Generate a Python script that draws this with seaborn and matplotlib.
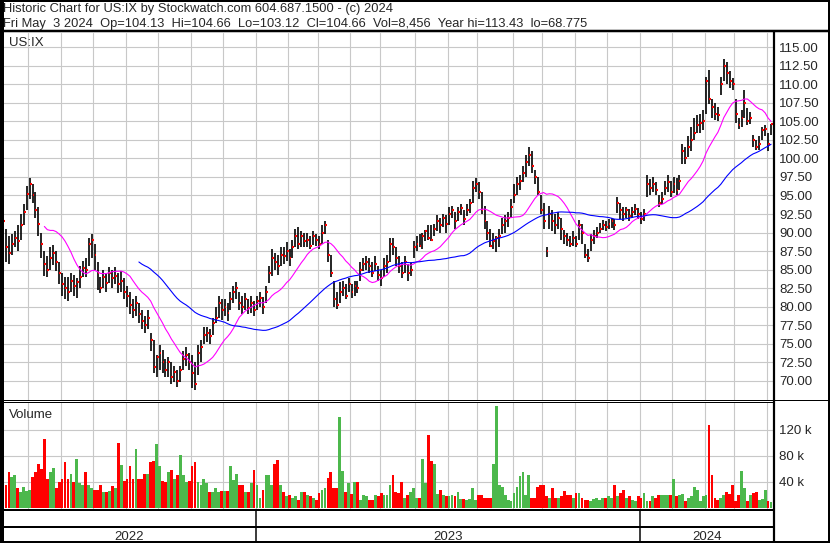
import numpy as np
import pandas as pd
import matplotlib
matplotlib.use('Agg')
import matplotlib.pyplot as plt
from matplotlib.patches import Rectangle
import seaborn as sns

sns.set_style('white')
plt.rcParams['font.family'] = ['Liberation Sans', 'DejaVu Sans']

# one bar per two trading days, May 2022 -> May 3 2024
dates = pd.bdate_range(end='2024-05-03', periods=522)[1::2]

close = [
    91.5, 88.0, 87.2, 88.5, 89.3, 88.8, 91.0, 92.8, 95.2, 96.5,
    95.0, 93.0, 91.2, 88.5, 85.8, 85.0, 86.5, 87.2, 86.0, 84.5,
    83.0, 82.5, 82.0, 83.5, 82.8, 83.3, 84.0, 85.2, 85.0, 88.5,
    89.0, 87.0, 84.5, 82.5, 84.0, 83.2, 84.5, 83.8, 84.2, 83.0,
    83.5, 82.0, 81.5, 80.2, 79.5, 80.5, 79.0, 78.0, 77.5, 78.5,
    75.5, 71.8, 73.2, 73.8, 72.5, 71.5, 72.5, 70.5, 71.2, 70.0,
    71.5, 73.0, 73.5, 72.5, 71.0, 69.5, 73.8, 74.5, 76.2, 76.5,
    76.0, 77.8, 78.5, 80.5, 79.5, 80.0, 79.2, 81.0, 82.0, 82.5,
    80.5, 80.0, 81.0, 79.8, 80.5, 79.5, 80.8, 81.2, 80.0, 82.0,
    84.5, 86.5, 86.0, 85.5, 87.0, 86.8, 87.5, 86.5, 88.0, 89.5,
    88.5, 89.5, 88.8, 89.0, 88.2, 89.5, 89.0, 88.5, 90.0, 91.0,
    87.0, 84.5, 81.0, 80.2, 82.0, 82.5, 81.5, 83.0, 82.0, 82.8,
    82.5, 85.0, 85.8, 86.0, 85.5, 84.5, 85.8, 84.3, 83.8, 85.5,
    86.0, 88.5, 88.0, 86.5, 85.5, 84.5, 86.0, 84.5, 85.0, 88.0,
    88.5, 88.2, 89.5, 90.2, 89.3, 89.0, 90.5, 91.5, 91.0, 92.0,
    91.2, 92.5, 93.0, 91.5, 92.8, 93.3, 91.8, 93.0, 94.0, 96.0,
    96.5, 95.5, 93.0, 91.5, 90.0, 88.2, 88.8, 89.2, 89.5, 91.0,
    91.5, 92.0, 93.5, 95.0, 96.5, 97.0, 98.0, 99.5, 100.5, 99.0,
    97.5, 95.5, 93.0, 91.5, 87.5, 92.5, 91.5, 91.0, 92.0, 90.5,
    89.5, 89.0, 88.5, 89.2, 88.5, 91.0, 90.0, 87.0, 86.5, 89.0,
    89.5, 90.0, 90.5, 91.0, 90.8, 91.2, 91.5, 91.0, 94.0, 93.0,
    92.5, 93.0, 92.2, 92.8, 93.2, 92.5, 91.8, 92.5, 96.5, 96.0,
    96.5, 95.8, 94.0, 94.5, 96.0, 96.8, 95.5, 96.5, 95.8, 97.0,
    101.0, 100.0, 101.5, 102.5, 103.5, 104.5, 104.8, 105.0, 110.5, 108.0,
    107.0, 106.0, 105.8, 110.0, 112.5, 111.5, 110.5, 110.0, 106.0, 104.5,
    105.5, 107.5, 105.0, 105.5, 102.5, 101.5, 102.0, 103.8, 104.0, 102.0, 104.66]

high = [
    92.0, 90.5, 89.5, 89.8, 90.2, 91.0, 92.5, 93.8, 96.3, 97.3,
    96.5, 95.5, 93.5, 90.0, 87.5, 86.8, 88.0, 88.3, 87.5, 86.0,
    84.5, 84.0, 84.0, 84.5, 84.3, 83.8, 85.5, 86.2, 86.5, 89.2,
    89.8, 88.5, 86.0, 84.0, 85.0, 84.5, 85.3, 85.0, 85.3, 84.5,
    84.8, 83.8, 82.8, 82.0, 81.0, 81.5, 80.5, 79.5, 78.8, 79.5,
    76.5, 75.5, 73.5, 74.8, 74.2, 73.0, 73.2, 72.5, 72.0, 71.5,
    72.0, 74.0, 74.5, 73.8, 73.5, 72.5, 74.8, 75.5, 77.2, 77.3,
    77.0, 78.5, 80.0, 81.5, 81.0, 81.0, 80.5, 82.0, 82.8, 83.3,
    82.0, 81.5, 81.8, 81.0, 81.5, 80.8, 81.5, 82.0, 81.3, 82.8,
    85.5, 87.8, 87.2, 87.0, 88.0, 88.0, 88.7, 87.8, 89.0, 90.5,
    90.7, 90.2, 90.0, 90.0, 89.5, 90.2, 89.8, 89.5, 91.0, 91.6,
    89.0, 87.0, 83.5, 82.0, 83.3, 83.5, 83.0, 83.8, 83.0, 83.5,
    83.5, 86.0, 86.5, 86.8, 86.5, 86.0, 86.8, 85.5, 85.0, 86.5,
    87.0, 89.3, 89.2, 88.0, 86.8, 86.0, 86.8, 85.8, 86.0, 88.8,
    89.6, 89.8, 90.0, 90.3, 91.0, 91.0, 91.2, 92.3, 92.0, 92.5,
    92.3, 93.5, 93.6, 92.8, 93.5, 93.8, 93.0, 93.8, 94.5, 97.0,
    97.3, 96.8, 95.5, 93.6, 91.5, 90.5, 90.0, 89.5, 90.5, 92.0,
    92.3, 92.8, 94.5, 96.5, 97.5, 97.8, 99.0, 100.5, 101.5, 101.0,
    98.5, 97.5, 95.0, 94.0, 88.0, 93.6, 93.0, 92.5, 92.8, 92.0,
    90.3, 90.0, 89.5, 90.2, 89.5, 91.7, 91.2, 88.5, 87.8, 89.8,
    90.3, 90.8, 91.3, 91.7, 91.5, 91.8, 92.0, 91.8, 94.8, 94.0,
    93.5, 93.5, 93.2, 93.5, 93.8, 93.3, 92.8, 93.2, 97.8, 97.2,
    97.5, 96.8, 95.0, 95.5, 97.0, 97.8, 97.0, 97.5, 97.3, 97.8,
    102.0, 101.5, 103.0, 104.3, 105.5, 105.8, 106.0, 106.5, 111.0, 112.0,
    108.0, 107.5, 107.0, 111.0, 113.4, 113.0, 111.8, 110.8, 108.0, 105.5,
    106.5, 109.2, 106.8, 106.3, 103.2, 102.5, 103.0, 104.3, 104.5, 103.5, 104.66]

low = [
    88.5, 86.0, 85.8, 87.0, 88.0, 87.5, 89.0, 91.0, 93.0, 94.5,
    94.0, 92.0, 89.5, 86.5, 84.2, 84.0, 85.0, 85.6, 84.8, 83.0,
    81.5, 81.0, 80.8, 82.0, 81.5, 81.2, 82.5, 84.0, 84.0, 85.5,
    86.5, 85.0, 82.2, 81.8, 82.5, 82.0, 83.2, 82.5, 83.0, 81.8,
    82.0, 81.0, 80.0, 79.0, 78.5, 78.8, 77.8, 77.0, 76.5, 77.0,
    74.0, 71.0, 70.5, 71.5, 71.0, 70.5, 70.5, 69.5, 69.8, 69.2,
    69.8, 71.5, 72.0, 71.5, 69.0, 68.8, 70.8, 72.5, 75.0, 75.2,
    75.0, 76.2, 77.8, 78.5, 78.2, 78.8, 78.0, 79.5, 80.5, 81.0,
    79.5, 79.0, 79.5, 79.0, 79.2, 78.8, 79.5, 80.0, 79.0, 80.5,
    83.2, 84.2, 85.0, 84.3, 85.5, 85.8, 86.2, 85.5, 86.5, 88.0,
    87.8, 88.0, 88.0, 88.0, 87.8, 88.3, 88.2, 87.8, 88.5, 89.8,
    86.0, 84.0, 80.0, 79.7, 80.5, 81.5, 81.0, 82.0, 81.2, 81.5,
    81.8, 83.5, 84.8, 85.0, 84.5, 84.0, 84.8, 83.5, 82.8, 84.0,
    84.5, 86.0, 87.0, 85.5, 84.5, 83.8, 84.5, 83.5, 84.2, 86.5,
    87.5, 88.0, 87.8, 88.8, 89.0, 88.8, 89.5, 90.2, 90.0, 90.8,
    90.0, 91.0, 92.0, 90.5, 91.5, 92.3, 91.0, 92.2, 92.7, 94.0,
    95.5, 94.5, 92.5, 90.5, 89.0, 88.0, 87.8, 87.4, 88.0, 89.8,
    90.0, 90.8, 92.0, 94.0, 95.0, 95.8, 96.8, 97.5, 99.0, 98.0,
    96.5, 95.0, 92.5, 90.5, 86.7, 90.5, 90.2, 89.8, 90.5, 89.0,
    88.5, 88.2, 88.0, 88.2, 88.0, 89.0, 88.5, 86.5, 86.0, 87.5,
    88.5, 89.3, 90.0, 90.3, 90.2, 90.5, 90.6, 90.3, 92.6, 91.8,
    91.5, 92.0, 91.5, 92.0, 92.3, 91.8, 91.2, 91.6, 94.8, 95.0,
    95.5, 95.0, 93.5, 93.8, 95.0, 95.5, 94.8, 95.3, 95.0, 95.8,
    99.3, 99.2, 100.2, 101.0, 102.5, 103.4, 103.5, 103.8, 106.0, 107.4,
    105.5, 105.2, 105.0, 108.5, 110.5, 110.0, 109.5, 109.2, 104.8, 104.0,
    104.3, 105.5, 104.5, 104.7, 101.5, 101.1, 101.2, 102.5, 103.0, 101.0, 103.12]

# volume in thousands
volume_k = [
    62, 36, 55, 48, 50, 30, 24, 32, 26, 28,
    48, 55, 68, 60, 106, 45, 55, 61, 30, 40,
    45, 70, 45, 53, 40, 76, 38, 36, 55, 36,
    30, 28, 27, 36, 25, 24, 26, 34, 30, 100,
    66, 42, 44, 65, 44, 90, 45, 44, 52, 52,
    70, 72, 99, 64, 41, 40, 55, 59, 44, 51,
    81, 51, 40, 42, 65, 71, 40, 36, 45, 38,
    25, 25, 30, 25, 26, 26, 26, 65, 43, 52,
    35, 35, 25, 25, 38, 59, 35, 16, 28, 51,
    51, 36, 67, 74, 36, 25, 18, 20, 16, 18,
    13, 25, 25, 20, 18, 15, 13, 23, 28, 30,
    46, 56, 30, 30, 140, 57, 25, 38, 22, 40,
    40, 12, 20, 18, 12, 13, 20, 18, 23, 20,
    20, 36, 50, 25, 23, 40, 15, 20, 25, 31,
    15, 15, 75, 38, 112, 72, 68, 22, 28, 20,
    18, 18, 20, 19, 24, 14, 14, 12, 14, 31,
    13, 20, 20, 15, 15, 15, 68, 157, 35, 32,
    20, 12, 10, 23, 32, 49, 55, 20, 51, 15,
    15, 33, 35, 36, 18, 15, 30, 15, 15, 18,
    26, 20, 20, 16, 23, 23, 15, 12, 12, 10,
    14, 15, 12, 15, 15, 18, 15, 35, 18, 23,
    28, 15, 18, 12, 11, 18, 15, 23, 10, 11,
    18, 15, 20, 20, 20, 20, 20, 45, 18, 20,
    21, 11, 15, 18, 33, 28, 11, 18, 20, 128,
    50, 15, 13, 15, 20, 25, 22, 36, 11, 20,
    57, 30, 11, 20, 23, 25, 12, 14, 28, 11, 9]

price_ticks = [70.0, 72.5, 75.0, 77.5, 80.0, 82.5, 85.0, 87.5, 90.0, 92.5,
               95.0, 97.5, 100.0, 102.5, 105.0, 107.5, 110.0, 112.5, 115.0]
vol_ticks = [40, 80, 120]
vol_labels = ['40 k', '80 k', '120 k']
header1 = 'Historic Chart for US:IX by Stockwatch.com 604.687.1500 - (c) 2024'
header2 = ('Fri May  3 2024  Op=104.13  Hi=104.66  Lo=103.12  Cl=104.66  '
           'Vol=8,456  Year hi=113.43  lo=68.775')

df = pd.DataFrame({'date': dates, 'close': close, 'high': high,
                   'low': low, 'vol': volume_k})
df['i'] = np.arange(len(df))
df['ma_fast'] = df['close'].rolling(15).mean()
df['ma_slow'] = df['close'].rolling(47).mean()
chg = df['close'].diff()
df['dir'] = np.where(chg > 0, 'up', np.where(chg < 0, 'down', 'flat'))
df.loc[0, 'dir'] = 'down'

month_starts = [i for i in range(1, len(df)) if df.date[i].month != df.date[i - 1].month]
month_pos = [i - 0.5 for i in month_starts]
year_pos = [i - 0.5 for i in month_starts if df.date[i].year != df.date[i - 1].year]

W, H = 830, 543
fig = plt.figure(figsize=(W / 100, H / 100), dpi=100)


def px_axes(x0, y0, x1, y1):
    return fig.add_axes([x0 / W, 1 - y1 / H, (x1 - x0) / W, (y1 - y0) / H])


XMIN, XMAX = -0.34, 260.66
PX0, PX1 = 2, 773


def to_px(i):
    return PX0 + (i - XMIN) / (XMAX - XMIN) * (PX1 - PX0)


grid_c = '#c8c8c8'
ax_p = px_axes(PX0, 33, PX1, 400)
ax_v = px_axes(PX0, 402.5, PX1, 509)

# price panel
ax_p.vlines(df['i'], df['low'], df['high'], color='black', lw=1.2, zorder=3)
ax_p.hlines(df['close'], df['i'], df['i'] + 0.65, color='red', lw=1.5, zorder=4)
sns.lineplot(x=df['i'], y=df['ma_fast'], color='#ff00ff', lw=0.8, ax=ax_p, zorder=5)
sns.lineplot(x=df['i'], y=df['ma_slow'], color='#0000ff', lw=0.8, ax=ax_p, zorder=5)
ax_p.set_xlim(XMIN, XMAX)
ax_p.set_ylim(67.40, 116.93)
ax_p.set_yticks(price_ticks)
ax_p.set_yticklabels(['%.2f' % t for t in price_ticks])
ax_p.set_xticks(month_pos)
ax_p.yaxis.tick_right()
ax_p.tick_params(axis='y', length=0, pad=4.3, labelsize=9.5)
ax_p.tick_params(axis='x', length=0, labelbottom=False)
ax_p.grid(True, color=grid_c, lw=0.8)
ax_p.set_axisbelow(True)
ax_p.set_xlabel('')
ax_p.set_ylabel('')

# volume panel
sns.barplot(data=df, x='i', y='vol', hue='dir', dodge=False, width=0.95,
            palette={'up': '#4cb84c', 'down': '#ff0000', 'flat': '#a0a0a0'},
            saturation=1, errorbar=None, legend=False, ax=ax_v,
            edgecolor='none', linewidth=0)
ax_v.set_xlim(XMIN, XMAX)
ax_v.set_ylim(-1.54, 162.3)
ax_v.set_yticks(vol_ticks)
ax_v.set_yticklabels(vol_labels)
ax_v.set_xticks(month_pos)
ax_v.set_xticklabels([])
ax_v.yaxis.tick_right()
ax_v.tick_params(axis='y', length=0, pad=4.3, labelsize=9.5)
ax_v.tick_params(axis='x', length=0, labelbottom=False)
ax_v.grid(True, color=grid_c, lw=0.8)
ax_v.set_axisbelow(True)
ax_v.set_xlabel('')
ax_v.set_ylabel('')

for ax in (ax_p, ax_v):
    for s in ax.spines.values():
        s.set_visible(False)

# frame, separators and texts in pixel coordinates
ov = fig.add_axes([0, 0, 1, 1], zorder=10)
ov.set_xlim(0, W)
ov.set_ylim(H, 0)
ov.axis('off')
ov.patch.set_alpha(0)


def seg(x0, y0, x1, y1, w):
    ov.plot([x0, x1], [y0, y1], color='black', lw=w * 0.72, solid_capstyle='butt')


ov.add_patch(Rectangle((1, 1), W - 2, H - 2, fill=False, ec='black', lw=2 * 0.72))
seg(1.5, 0, 1.5, H, 3)
seg(0, 31, W, 31, 2.5)
seg(773.7, 31, 773.7, H, 2.2)
seg(0, 400, W, 400, 1)
seg(0, 402, 773.7, 402, 1)
seg(0, 510, 773.7, 510, 2)
seg(0, 527.3, 773.7, 527.3, 2)

bounds = [PX0] + [to_px(p) for p in year_pos] + [773.7]
for xb in bounds[1:-1]:
    seg(xb, 510, xb, H, 1.5)
years = ['2022', '2023', '2024']
for k, yr in enumerate(years):
    ov.text((bounds[k] + bounds[k + 1]) / 2, 540, yr, ha='center', va='baseline', fontsize=9.5)

ov.text(3, 11.6, header1, fontsize=9.3, va='baseline')
ov.text(3, 27.0, header2, fontsize=9.3, va='baseline')
ov.text(9, 46, 'US:IX', fontsize=9.5, va='baseline')
ov.text(9, 417.7, 'Volume', fontsize=9.5, va='baseline')

fig.savefig('out.png', dpi=100)
